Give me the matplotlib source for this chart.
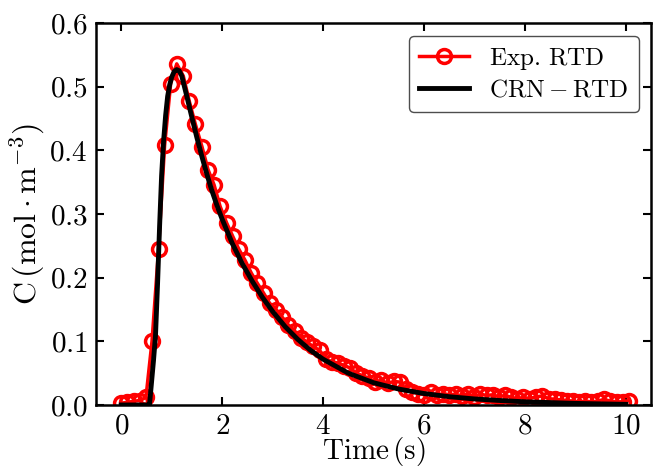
import matplotlib
matplotlib.use("Agg")
import matplotlib.pyplot as plt

plt.rcParams['font.family'] = 'cmr10'
plt.rcParams['mathtext.fontset'] = 'cm'
plt.rcParams['axes.formatter.use_mathtext'] = True

# experimental RTD (time in s, concentration in mol/m3)
t_exp = [0.00, 0.12, 0.25, 0.37, 0.49, 0.61, 0.74, 0.86, 0.98, 1.10,
         1.23, 1.35, 1.47, 1.60, 1.72, 1.84, 1.96, 2.09, 2.21, 2.33,
         2.45, 2.58, 2.70, 2.82, 2.94, 3.07, 3.19, 3.31, 3.44, 3.56,
         3.68, 3.80, 3.93, 4.05, 4.17, 4.29, 4.42, 4.54, 4.66, 4.78,
         4.91, 5.03, 5.15, 5.28, 5.40, 5.52, 5.64, 5.77, 5.89, 6.01,
         6.13, 6.26, 6.38, 6.50, 6.63, 6.75, 6.87, 6.99, 7.12, 7.24,
         7.36, 7.48, 7.61, 7.73, 7.85, 7.97, 8.10, 8.22, 8.34, 8.47,
         8.59, 8.71, 8.83, 8.96, 9.08, 9.20, 9.32, 9.45, 9.57, 9.69,
         9.82, 9.94, 10.06]
c_exp = [0.003, 0.004, 0.006, 0.007, 0.012, 0.100, 0.245, 0.408, 0.505, 0.536,
         0.517, 0.477, 0.441, 0.406, 0.370, 0.346, 0.312, 0.286, 0.265, 0.245,
         0.228, 0.207, 0.191, 0.176, 0.160, 0.150, 0.138, 0.126, 0.116, 0.106,
         0.099, 0.092, 0.086, 0.073, 0.068, 0.066, 0.062, 0.058, 0.050, 0.046,
         0.042, 0.036, 0.039, 0.034, 0.037, 0.036, 0.025, 0.020, 0.018, 0.016,
         0.020, 0.015, 0.018, 0.016, 0.017, 0.014, 0.018, 0.013, 0.017, 0.015,
         0.016, 0.013, 0.015, 0.012, 0.010, 0.012, 0.010, 0.013, 0.014, 0.010,
         0.009, 0.008, 0.007, 0.006, 0.005, 0.006, 0.005, 0.006, 0.009, 0.006,
         0.005, 0.005, 0.007]

# CRN model RTD
t_crn = [0.00, 0.50, 0.56, 0.60, 0.64, 0.68, 0.72, 0.76, 0.80, 0.84,
         0.88, 0.92, 0.96, 1.00, 1.05, 1.10, 1.15, 1.20, 1.30, 1.40,
         1.50, 1.60, 1.70, 1.80, 1.90, 2.00, 2.20, 2.40, 2.60, 2.80,
         3.00, 3.25, 3.50, 3.75, 4.00, 4.50, 5.00, 5.50, 6.00, 6.50,
         7.00, 7.50, 8.00, 9.00, 10.00]
c_crn = [0.0, 0.0, 0.0, 0.035, 0.07, 0.11, 0.19, 0.28, 0.36, 0.415,
         0.455, 0.485, 0.503, 0.515, 0.524, 0.527, 0.525, 0.517, 0.485, 0.452,
         0.42, 0.39, 0.362, 0.336, 0.313, 0.292, 0.254, 0.222, 0.194, 0.169,
         0.147, 0.123, 0.103, 0.086, 0.072, 0.050, 0.035, 0.025, 0.018, 0.013,
         0.0095, 0.007, 0.005, 0.0025, 0.001]

fig, ax = plt.subplots(figsize=(6.53, 4.72), dpi=100)
fig.subplots_adjust(left=0.147, right=0.997, bottom=0.142, top=0.951)

ax.plot(t_exp, c_exp, color='red', lw=2.5, marker='o', ms=10, mfc='none',
        mew=2.5, label=r'$\mathrm{Exp.\,RTD}$')
ax.plot(t_crn, c_crn, color='black', lw=3.5, label=r'$\mathrm{CRN-RTD}$')

ax.set_xlim(-0.5, 10.5)
ax.set_ylim(0, 0.6)
ax.set_xticks([0, 2, 4, 6, 8, 10])
ax.set_yticks([0.0, 0.1, 0.2, 0.3, 0.4, 0.5, 0.6])
ax.tick_params(direction='in', top=True, right=True, length=6, width=1.5,
               labelsize=21, pad=6)
for s in ax.spines.values():
    s.set_linewidth(1.8)

ax.set_xlabel(r'$\mathrm{Time\,(s)}$', fontsize=21, labelpad=-3)
ax.set_ylabel(r'$\mathrm{C\,(mol\cdot m^{-3})}$', fontsize=23, labelpad=2)

leg = ax.legend(loc='upper right', fontsize=18, handlelength=2.0,
                edgecolor='0.3', framealpha=1, borderaxespad=0.5,
                handletextpad=0.8, labelspacing=0.3)

fig.savefig('out.png', dpi=100)
